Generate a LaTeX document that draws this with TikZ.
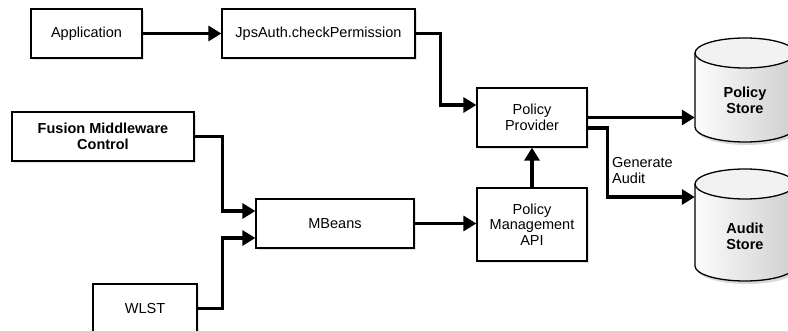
\documentclass[tikz,border=0pt]{standalone}
\usepackage{fontspec}
\setmainfont{Liberation Sans}
\usetikzlibrary{arrows.meta,shadows,calc}
\begin{document}
\begin{tikzpicture}[x=1pt,y=-1pt,
  txt/.style={font=\fontsize{14.5}{15.5}\selectfont},
  boldtext/.style={font=\fontsize{14.5}{16}\selectfont\bfseries},
  box/.style={txt, draw, line width=1.3pt, fill=white, align=center, inner sep=0pt,
    drop shadow={shadow xshift=2pt, shadow yshift=-2pt, fill=black!22}},
  conn/.style={line width=3.5pt, line join=miter, -{Triangle[length=13pt,width=15pt]}},
  cyl/.style={line width=1.3pt},
  cylbody/.style={left color=gray!2, right color=gray!38},
  cyltop/.style={line width=1.3pt, fill=gray!10}]
\useasboundingbox (0,0) rectangle (788,331);

% boxes
\node[box, minimum width=111pt, minimum height=49pt] (app) at (86.5,33.5) {Application};
\node[box, minimum width=193pt, minimum height=49pt] (jps) at (318.5,33.5) {JpsAuth.checkPermission};
\node[box, boldtext, minimum width=182pt, minimum height=49pt] (fmw) at (103,136.5) {Fusion Middleware\\Control};
\node[box, minimum width=158pt, minimum height=49pt] (mb) at (335,223.5) {MBeans};
\node[box, minimum width=104pt, minimum height=49pt] (wlst) at (145,308.5) {WLST};
\node[box, minimum width=110pt, minimum height=59pt] (prov) at (532,117.5) {Policy\\Provider};
\node[box, minimum width=110pt, minimum height=73pt] (api) at (532,224.5) {Policy\\Management\\API};

% policy store cylinder
\fill[black!15] (697,56) -- (697,130) arc[start angle=180,end angle=360,x radius=50pt,y radius=15pt] -- (797,56) -- cycle;
\fill[cylbody] (695,53) -- (695,127) arc[start angle=180,end angle=360,x radius=50pt,y radius=15pt] -- (795,53) -- cycle;
\draw[cyl] (695,53) -- (695,127) arc[start angle=180,end angle=360,x radius=50pt,y radius=15pt] -- (795,53);
\draw[cyltop] (745,53) ellipse[x radius=50pt, y radius=15pt];
\node[boldtext, minimum width=100pt, align=center, inner sep=0pt] (ps) at (745,100) {Policy\\Store};

% audit store cylinder
\fill[black!15] (697,187) -- (697,269) arc[start angle=180,end angle=360,x radius=50pt,y radius=15pt] -- (797,187) -- cycle;
\fill[cylbody] (695,184) -- (695,266) arc[start angle=180,end angle=360,x radius=50pt,y radius=15pt] -- (795,184) -- cycle;
\draw[cyl] (695,184) -- (695,266) arc[start angle=180,end angle=360,x radius=50pt,y radius=15pt] -- (795,184);
\draw[cyltop] (745,184) ellipse[x radius=50pt, y radius=15pt];
\node[boldtext, minimum width=100pt, align=center, inner sep=0pt] (as) at (745,236) {Audit\\Store};

% connectors
\draw[conn] (app) -- (jps);
\draw[conn] (jps.east) -- ++(25,0) |- ([yshift=12.5pt]prov.west);
\draw[conn] (fmw.east) -- ++(28,0) |- ([yshift=12.5pt]mb.west);
\draw[conn] (wlst.east) -- ++(25,0) |- ([yshift=-14.5pt]mb.west);
\draw[conn] (mb.east) -- (mb.east -| api.west);
\draw[conn] (api) -- (prov);
\draw[conn] (prov.east) -- (prov.east -| ps.west);
\draw[conn] ([yshift=-10.5pt]prov.east) -- ++(20,0) |- ([yshift=39pt]as.west);

\node[txt, anchor=west, align=left, inner sep=0pt] (lbl) at (612,170.5) {Generate\\Audit};
\end{tikzpicture}
\end{document}
